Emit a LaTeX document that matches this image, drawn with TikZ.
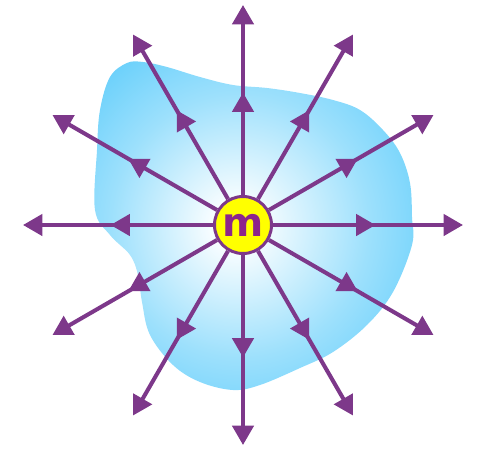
\documentclass[tikz,border=0pt]{standalone}
\usepackage{xcolor}
\usepackage{fontspec}
\usepackage{tikz}
\usetikzlibrary{arrows.meta, decorations.markings}
\newfontfamily\mfont{DejaVu Sans}
\definecolor{mypurple}{RGB}{125,56,138}
\definecolor{mymagenta}{RGB}{140,36,140}
\definecolor{myyellow}{RGB}{255,255,0}
\definecolor{myblue}{RGB}{77,199,250}
\pgfdeclareradialshading{blobshade}{\pgfpoint{-3bp}{0bp}}{color(0bp)=(white); color(4bp)=(white!95!myblue); color(20bp)=(myblue!55!white); color(38bp)=(myblue); color(75bp)=(myblue)}
\tikzset{
  mass/.style={circle, draw=mypurple, fill=myyellow, minimum size=1.14cm, inner sep=0pt,
    line width=1.7pt, text=mymagenta, font=\mfont\bfseries\fontsize{22.5}{22.5}\selectfont},
  ray/.style={line width=2.3pt, color=mypurple, -{Triangle[length=11pt, width=12pt]},
    postaction={decorate}, decoration={markings,
      mark=at position 2.05cm with {\arrow{Triangle[length=11pt, width=12pt]}}}}
}

\begin{document}
\begin{tikzpicture}
  \useasboundingbox (-4.86,-4.5) rectangle (4.78,4.5);
  % the body round the mass
  \shade[shading=blobshade] plot[smooth cycle, tension=0.6] coordinates {
    (3.38,0.16) (3.38,-0.4) (3.0,-1.34) (2.48,-2.0) (1.8,-2.54) (1.14,-2.86)
    (0.34,-3.2) (-0.2,-3.3) (-0.86,-3.14) (-1.4,-2.8) (-1.86,-2.2) (-2.02,-1.54)
    (-2.1,-1.0) (-2.26,-0.6) (-2.66,-0.2) (-2.96,0.3) (-2.92,1.5) (-2.86,2.3)
    (-2.66,2.96) (-2.32,3.24) (-2.0,3.26) (-1.52,3.16) (-0.86,2.96) (-0.2,2.8)
    (0.48,2.74) (1.14,2.64) (1.8,2.5) (2.34,2.3) (2.8,1.9) (3.14,1.44) (3.34,0.84)};
  % mass in the middle
  \node[mass] (m) at (0,0) {m};
  % field lines
  \foreach \a in {0,30,...,330} {
    \coordinate (tip\a) at (\a:4.4);
    \draw[ray] (m) -- (tip\a);
  }
\end{tikzpicture}
\end{document}
